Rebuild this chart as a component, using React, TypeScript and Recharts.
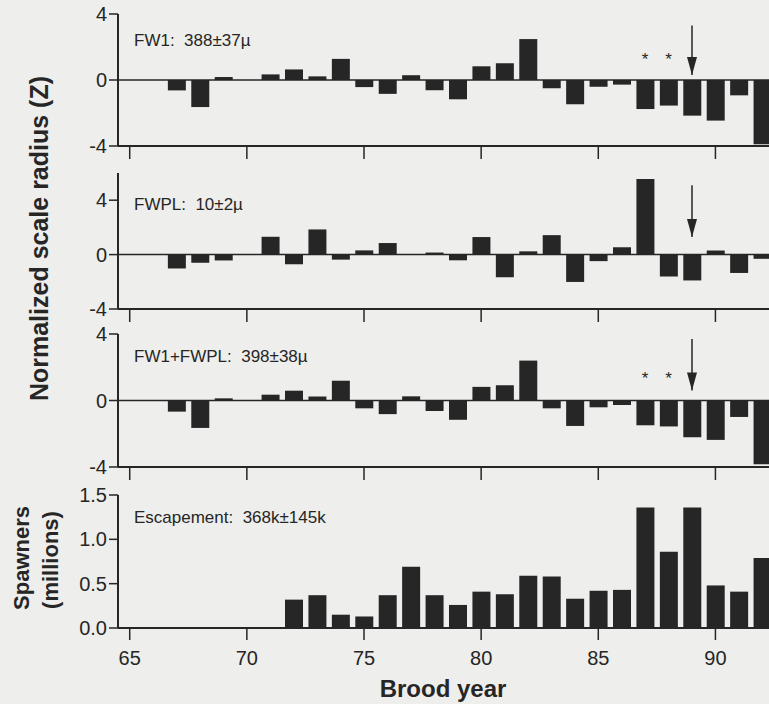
import React from 'react'
import { Bar, BarChart, ReferenceDot, ReferenceLine, XAxis, YAxis } from 'recharts'

// brood years 1965-1992
const years = [
  65, 66, 67, 68, 69, 70, 71, 72, 73, 74, 75, 76, 77, 78,
  79, 80, 81, 82, 83, 84, 85, 86, 87, 88, 89, 90, 91, 92,
]

// normalized scale radius (Z)
const fw1 = [
  null, null, -0.63, -1.64, 0.18, 0, 0.34, 0.64, 0.22, 1.28, -0.43, -0.84, 0.29, -0.62,
  -1.17, 0.83, 1.02, 2.48, -0.5, -1.47, -0.41, -0.28, -1.76, -1.55, -2.16, -2.46, -0.93, -3.89,
]
const fwpl = [
  null, null, -1.02, -0.6, -0.43, 0, 1.31, -0.71, 1.85, -0.37, 0.31, 0.85, 0, 0.15,
  -0.42, 1.29, -1.66, 0.24, 1.43, -2.01, -0.48, 0.54, 5.55, -1.61, -1.9, 0.3, -1.35, -0.31,
]
const fw1Fwpl = [
  null, null, -0.67, -1.65, 0.13, 0, 0.35, 0.59, 0.24, 1.19, -0.47, -0.82, 0.25, -0.63,
  -1.16, 0.82, 0.91, 2.4, -0.47, -1.53, -0.41, -0.27, -1.49, -1.56, -2.21, -2.37, -0.99, -3.84,
]

// spawners, millions
const escapement = [
  0, 0, 0, 0, 0, 0, 0, 0.32, 0.37, 0.15, 0.13, 0.37, 0.69, 0.37,
  0.26, 0.41, 0.38, 0.59, 0.58, 0.33, 0.42, 0.43, 1.36, 0.86, 1.36, 0.48, 0.41, 0.79,
]

const zTicks = [-4, 0, 4]
const spawnerTicks = [0, 0.5, 1, 1.5]
const starYears = [87, 88]
const arrowYear = 89

const rows = years.map((year, i) => ({
  year,
  fw1: fw1[i],
  fwpl: fwpl[i],
  both: fw1Fwpl[i],
  esc: escapement[i],
}))

const FONT = '"Liberation Sans", Arial, Helvetica, sans-serif'
const INK = '#262626'
const PAPER = '#eeeeec'

const CHART_W = 790
const Y_AXIS_W = 60
const PLOT_LEFT = 118
const MARGIN_TOP = 10

interface PanelProps {
  dataKey: string
  label: string
  labelTop: number
  plotTop: number
  plotHeight: number
  domain: [number, number]
  ticks: number[]
  formatY?: (v: number) => string
  showYears?: boolean
  zeroLine?: boolean
  starY?: number
  arrow?: [number, number]
}

function ArrowHead(props: any) {
  const { cx, cy } = props
  if (cx == null || cy == null) return <g />
  return <path d={`M${cx - 5},${cy - 18}L${cx + 5},${cy - 18}L${cx},${cy}Z`} fill={INK} />
}

function Star(props: any) {
  const { cx, cy } = props
  if (cx == null || cy == null) return <g />
  return (
    <text x={cx} y={cy} dy="0.58em" textAnchor="middle" fontSize={17} fontFamily={FONT} fill={INK}>
      *
    </text>
  )
}

function Panel({
  dataKey,
  label,
  labelTop,
  plotTop,
  plotHeight,
  domain,
  ticks,
  formatY,
  showYears = false,
  zeroLine = true,
  starY,
  arrow,
}: PanelProps) {
  const axisH = showYears ? 40 : 14
  const height = MARGIN_TOP + plotHeight + axisH
  return (
    <>
      <div style={{ position: 'absolute', left: 0, top: plotTop - MARGIN_TOP }}>
        <BarChart
          width={CHART_W}
          height={height}
          data={rows}
          margin={{ top: MARGIN_TOP, right: CHART_W - 774, left: PLOT_LEFT - Y_AXIS_W, bottom: 0 }}
        >
          <XAxis
            dataKey="year"
            type="category"
            interval={4}
            height={axisH}
            tickSize={showYears ? 12 : 13}
            tickMargin={11}
            tickLine={{ stroke: INK, strokeWidth: 1.5 }}
            axisLine={{ stroke: INK, strokeWidth: 2 }}
            tick={{ fontSize: 20, fill: INK, fontFamily: FONT }}
            tickFormatter={showYears ? undefined : () => ''}
          />
          <XAxis
            xAxisId="top"
            dataKey="year"
            orientation="top"
            height={0}
            tick={false}
            tickLine={false}
            axisLine={{ stroke: INK, strokeWidth: 2 }}
          />
          <YAxis
            type="number"
            width={Y_AXIS_W}
            domain={domain}
            ticks={ticks}
            interval={0}
            allowDataOverflow
            tickSize={9}
            tickMargin={2}
            tickFormatter={formatY}
            tickLine={{ stroke: INK, strokeWidth: 1.5 }}
            axisLine={{ stroke: INK, strokeWidth: 2 }}
            tick={{ fontSize: 20, fill: INK, fontFamily: FONT }}
          />
          {zeroLine && <ReferenceLine y={0} stroke={INK} strokeWidth={1.5} />}
          <Bar dataKey={dataKey} fill={INK} barSize={18} isAnimationActive={false} />
          {starY != null &&
            starYears.map((yr) => (
              <ReferenceDot key={yr} x={yr} y={starY} r={0} shape={<Star />} />
            ))}
          {arrow && (
            <ReferenceLine
              segment={[
                { x: arrowYear, y: arrow[0] },
                { x: arrowYear, y: arrow[1] },
              ]}
              stroke={INK}
              strokeWidth={1.5}
            />
          )}
          {arrow && <ReferenceDot x={arrowYear} y={arrow[1]} r={0} shape={<ArrowHead />} />}
        </BarChart>
      </div>
      <div
        style={{
          position: 'absolute',
          left: 134,
          top: labelTop,
          fontFamily: FONT,
          fontSize: 17,
          lineHeight: '17px',
          color: INK,
          whiteSpace: 'pre',
        }}
      >
        {label}
      </div>
    </>
  )
}

function RotatedTitle({ text, cx, cy, size }: { text: string; cx: number; cy: number; size: number }) {
  const w = 420
  return (
    <div
      style={{
        position: 'absolute',
        left: cx - w / 2,
        top: cy - size / 2,
        width: w,
        height: size,
        lineHeight: `${size}px`,
        textAlign: 'center',
        fontFamily: FONT,
        fontWeight: 'bold',
        fontSize: size,
        color: INK,
        transform: 'rotate(-90deg)',
        whiteSpace: 'nowrap',
      }}
    >
      {text}
    </div>
  )
}

export default function App() {
  return (
    <div
      style={{
        position: 'fixed',
        left: 0,
        top: 0,
        width: 769,
        height: 704,
        overflow: 'hidden',
        background: PAPER,
      }}
    >
      <Panel
        dataKey="fw1"
        label={'FW1:  388±37µ'}
        labelTop={32}
        plotTop={14}
        plotHeight={132}
        domain={[-4, 4]}
        ticks={zTicks}
        starY={1.5}
        arrow={[3.3, 0.3]}
      />
      <Panel
        dataKey="fwpl"
        label={'FWPL:  10±2µ'}
        labelTop={196}
        plotTop={173}
        plotHeight={136}
        domain={[-4, 6]}
        ticks={zTicks}
        arrow={[5.1, 1.3]}
      />
      <Panel
        dataKey="both"
        label={'FW1+FWPL:  398±38µ'}
        labelTop={348}
        plotTop={334}
        plotHeight={133}
        domain={[-4, 4]}
        ticks={zTicks}
        starY={1.6}
        arrow={[3.7, 0.6]}
      />
      <Panel
        dataKey="esc"
        label={'Escapement:  368k±145k'}
        labelTop={509}
        plotTop={495}
        plotHeight={133}
        domain={[0, 1.5]}
        ticks={spawnerTicks}
        formatY={(v: number) => v.toFixed(1)}
        showYears
        zeroLine={false}
      />
      <RotatedTitle text="Normalized scale radius (Z)" cx={39} cy={238} size={25} />
      <RotatedTitle text="Spawners" cx={22} cy={558} size={22} />
      <RotatedTitle text="(millions)" cx={51} cy={560} size={22} />
      <div
        style={{
          position: 'absolute',
          left: 243,
          width: 400,
          top: 677,
          textAlign: 'center',
          fontFamily: FONT,
          fontWeight: 'bold',
          fontSize: 24,
          lineHeight: '24px',
          color: INK,
        }}
      >
        Brood year
      </div>
    </div>
  )
}
